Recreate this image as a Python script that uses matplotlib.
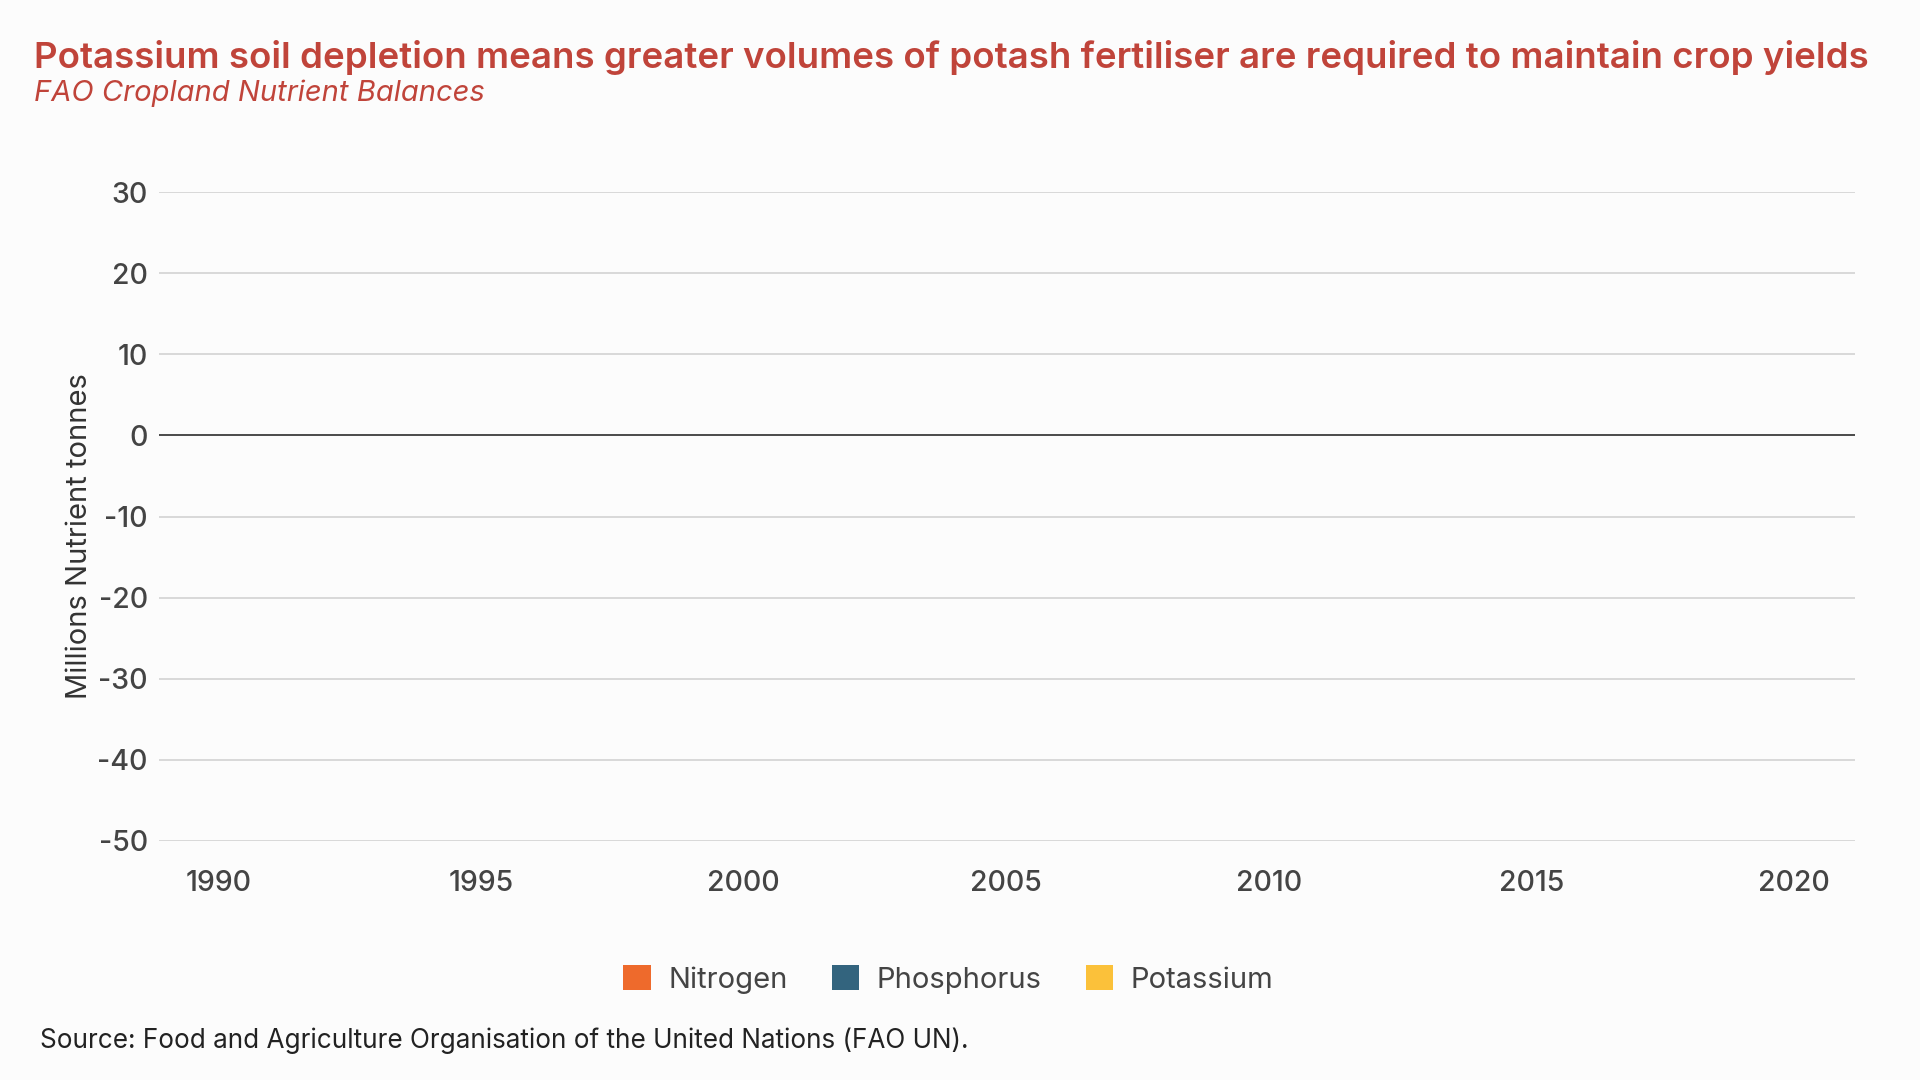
import matplotlib.pyplot as plt
from matplotlib.patches import Patch

# data (the reference shows the axes and legend only, no bars drawn)
years = list(range(1990, 2021))
nitrogen = []
phosphorus = []
potassium = []
series_names = ['Nitrogen', 'Phosphorus', 'Potassium']
series_colors = ['#EE6A2C', '#33647E', '#FBC13A']
y_ticks = [30, 20, 10, 0, -10, -20, -30, -40, -50]
x_ticks = [1990, 1995, 2000, 2005, 2010, 2015, 2020]

plt.rcParams['font.family'] = ['Inter', 'DejaVu Sans']

bg = '#fcfcfc'
fig = plt.figure(figsize=(19.2, 10.8), dpi=100, facecolor=bg)
ax = fig.add_axes([0.0828, 0.2213, 0.8833, 0.6009], facecolor=bg)

# bars for each series (empty in the reference)
w = 0.27
ax.bar([y - w for y in years[:len(nitrogen)]], nitrogen, width=w, color=series_colors[0])
ax.bar(years[:len(phosphorus)], phosphorus, width=w, color=series_colors[1])
ax.bar([y + w for y in years[:len(potassium)]], potassium, width=w, color=series_colors[2])

ax.set_xlim(1988.87, 2021.16)
ax.set_ylim(-50, 30)
ax.set_yticks(y_ticks)
ax.set_xticks(x_ticks)
ax.set_yticklabels([str(v) for v in y_ticks])
ax.set_xticklabels([str(v) for v in x_ticks])

for v in y_ticks:
    if v == 0:
        ax.axhline(v, color='#4a4a4a', lw=1.4, zorder=1)
    else:
        ax.axhline(v, color='#cfcfcf', lw=1.1, zorder=0)

for s in ax.spines.values():
    s.set_visible(False)
ax.tick_params(axis='both', length=0, labelsize=20.5, labelcolor='#444444')
ax.tick_params(axis='y', pad=8)
ax.tick_params(axis='x', pad=21)
for lab in ax.get_xticklabels() + ax.get_yticklabels():
    lab.set_fontweight('medium')

fig.text(80 / 1920, 0.504, 'Millions Nutrient tonnes', rotation=90, fontsize=21,
         color='#333333', ha='center', va='center')

fig.text(0.0177, 0.947, 'Potassium soil depletion means greater volumes of potash fertiliser are required to maintain crop yields',
         fontsize=26.4, fontweight='semibold', color='#C0443A', va='center', ha='left')
fig.text(0.0177, 0.914, 'FAO Cropland Nutrient Balances', fontsize=21, style='italic',
         color='#C0443A', va='center', ha='left')

handles = [Patch(facecolor=c, edgecolor='none', label=n) for n, c in zip(series_names, series_colors)]
fig.legend(handles=handles, loc='center', bbox_to_anchor=(0.494, 0.093), ncol=3, frameon=False,
           fontsize=21, handlelength=0.95, handleheight=0.95, handletextpad=0.6, columnspacing=1.5,
           labelcolor='#444444')

fig.text(0.0208, 0.036, 'Source: Food and Agriculture Organisation of the United Nations (FAO UN).',
         fontsize=18.8, color='#222222', va='center', ha='left')

fig.savefig('out.png', dpi=100, facecolor=bg)
